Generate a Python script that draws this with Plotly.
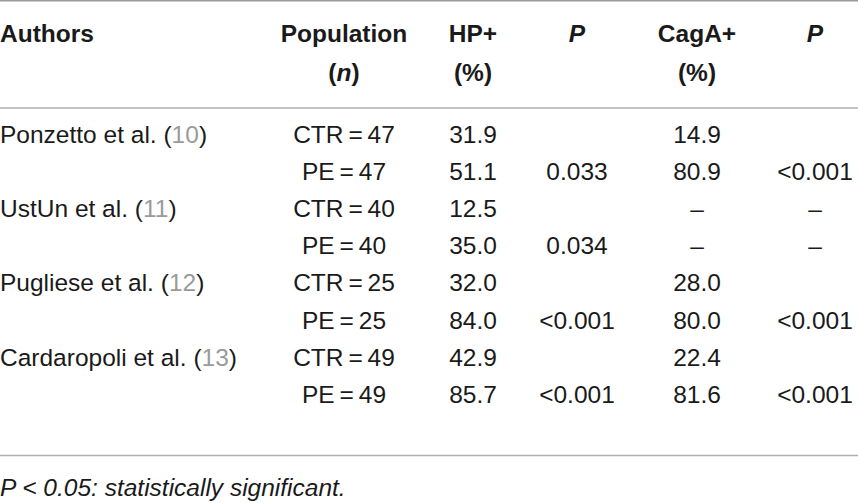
import plotly.graph_objects as go

# table content
authors = ["Ponzetto et al.", "", "UstUn et al.", "", "Pugliese et al.", "", "Cardaropoli et al.", ""]
refs = ["10", "", "11", "", "12", "", "13", ""]
groups = ["CTR", "PE", "CTR", "PE", "CTR", "PE", "CTR", "PE"]
n_sizes = [47, 47, 40, 40, 25, 25, 49, 49]
hp_pos = ["31.9", "51.1", "12.5", "35.0", "32.0", "84.0", "42.9", "85.7"]
hp_p = ["", "0.033", "", "0.034", "", "<0.001", "", "<0.001"]
caga_pos = ["14.9", "80.9", "–", "–", "28.0", "80.0", "22.4", "81.6"]
caga_p = ["", "<0.001", "–", "–", "", "<0.001", "", "<0.001"]
header_1 = ["Authors", "Population", "HP+", "<i>P</i>", "CagA+", "<i>P</i>"]
header_2 = ["", "(<i>n</i>)", "(%)", "", "(%)", ""]
footnote = "<i>P &lt; 0.05: statistically significant.</i>"

W, H = 858, 503
FONT = "Liberation Sans, Arial, sans-serif"
TXT = "#1a1a1a"
SIZE = 24.5

# layout in pixels (text boxes include descenders, so nudged down a bit)
col_x = [0, 344, 473, 577, 697, 815]
head_y = [36, 75]
row_y0, row_h = 136.5, 37.2
rules = [(0.8, "#9a9a9a"), (108, "#b0b0b0"), (455.5, "#b0b0b0")]
rows_y = [row_y0 + i * row_h for i in range(len(groups))]


def text_trace(xs, ys, texts, pos="middle center"):
    return go.Scatter(x=xs, y=ys, mode="text", text=texts, textposition=pos,
                      textfont=dict(family=FONT, size=SIZE, color=TXT),
                      hoverinfo="skip", showlegend=False)


fig = go.Figure()

# header
for line, yy in zip([header_1, header_2], head_y):
    for j, t in enumerate(line):
        if not t:
            continue
        fig.add_trace(text_trace([col_x[j]], [yy], ["<b>" + t + "</b>"],
                                 "middle right" if j == 0 else "middle center"))

# authors column with grey reference numbers
author_txt = [a + " (<span style='color:#9a9a9a'>" + r + "</span>)" if a else "" for a, r in zip(authors, refs)]
fig.add_trace(text_trace([col_x[0]] * len(rows_y), rows_y, author_txt, "middle right"))

pop_txt = [g + "\u2009=\u2009" + str(n) for g, n in zip(groups, n_sizes)]
for j, col in enumerate([pop_txt, hp_pos, hp_p, caga_pos, caga_p], start=1):
    fig.add_trace(text_trace([col_x[j]] * len(rows_y), rows_y,
                             [c.replace("<", "&lt;") for c in col]))

# footnote
fig.add_trace(text_trace([0], [490], [footnote], "middle right"))

for yy, c in rules:
    fig.add_shape(type="line", x0=0, x1=W, y0=yy, y1=yy, line=dict(color=c, width=1.5))

fig.update_layout(
    width=W, height=H, margin=dict(l=0, r=0, t=0, b=0),
    paper_bgcolor="white", plot_bgcolor="white",
    xaxis=dict(range=[0, W], visible=False, fixedrange=True),
    yaxis=dict(range=[H, 0], visible=False, fixedrange=True),
)

fig.write_html("out.html", config={"displayModeBar": False},
               post_script="document.body.style.margin='0';")
